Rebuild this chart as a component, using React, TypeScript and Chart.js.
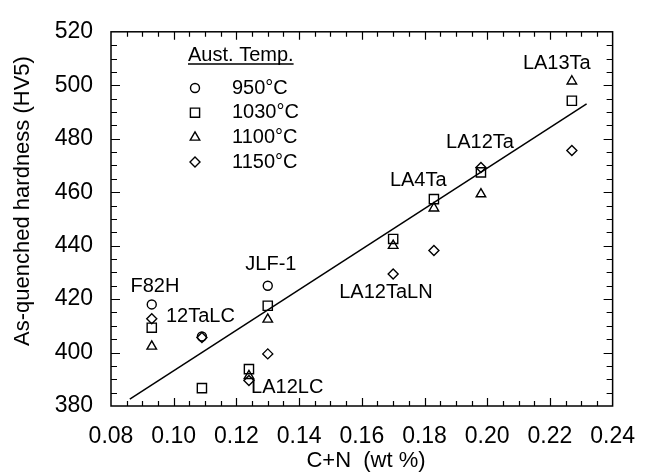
import React, { useEffect, useRef } from 'react';
import { Chart, registerables } from 'chart.js';

Chart.register(...registerables);

const FONT = '"Liberation Sans", Arial, Helvetica, sans-serif';

const alloys = ['F82H', '12TaLC', 'LA12LC', 'JLF-1', 'LA12TaLN', 'LA4Ta', 'LA12Ta', 'LA13Ta'];
const cn = [0.093, 0.109, 0.124, 0.13, 0.17, 0.183, 0.198, 0.227];
const hv950 = [418, 406, null, 425, null, null, null, null];
const hv1030 = [409.3, 386.7, 393.8, 417.5, 442.5, 457.4, 467.4, 494.2];
const hv1100 = [402.3, null, 391.3, 412.4, 440, 454, 459.3, 501.5];
const hv1150 = [412.6, 405.6, 389.5, 399.5, 429.4, 438.2, 469.2, 475.6];

const fitX = [0.086, 0.2317];
const fitY = [382.6, 493];

// label anchor positions (data units)
const labelX = [0.094, 0.1085, 0.1362, 0.131, 0.1677, 0.178, 0.1977, 0.2222];
const labelY = [424.6, 413.6, 387, 433, 422.4, 464.4, 478.6, 508.2];

const seriesNames = ['950°C', '1030°C', '1100°C', '1150°C'];
const seriesStyles = ['circle', 'rect', 'triangle', 'rectRot'];
const seriesRadii = [4.5, 6.5, 5.5, 5];
const seriesValues = [hv950, hv1030, hv1100, hv1150];

const legendTitle = 'Aust. Temp.';
const xTitle = 'C+N  (wt %)';
const yTitle = 'As-quenched hardness (HV5)';

const xMin = 0.08, xMax = 0.24, xStep = 0.02, xMinor = 0.005;
const yMin = 380, yMax = 520, yStep = 20, yMinor = 5;

function drawSymbol(ctx: CanvasRenderingContext2D, style: string, x: number, y: number, r: number) {
  ctx.beginPath();
  if (style === 'circle') {
    ctx.arc(x, y, r, 0, Math.PI * 2);
  } else if (style === 'rect') {
    const s = Math.SQRT1_2 * r;
    ctx.rect(x - s, y - s, 2 * s, 2 * s);
  } else if (style === 'triangle') {
    let a = 0;
    ctx.moveTo(x + Math.sin(a) * r, y - Math.cos(a) * r);
    a += (2 * Math.PI) / 3;
    ctx.lineTo(x + Math.sin(a) * r, y - Math.cos(a) * r);
    a += (2 * Math.PI) / 3;
    ctx.lineTo(x + Math.sin(a) * r, y - Math.cos(a) * r);
    ctx.closePath();
  } else {
    ctx.moveTo(x, y - r);
    ctx.lineTo(x + r, y);
    ctx.lineTo(x, y + r);
    ctx.lineTo(x - r, y);
    ctx.closePath();
  }
  ctx.stroke();
}

const decorPlugin = {
  id: 'decor',
  afterDraw(chart: any) {
    const ctx: CanvasRenderingContext2D = chart.ctx;
    const { left, right, top, bottom } = chart.chartArea;
    const xs = chart.scales.x;
    const ys = chart.scales.y;
    ctx.save();
    ctx.strokeStyle = '#000';
    ctx.fillStyle = '#000';
    // frame
    ctx.lineWidth = 1.5;
    ctx.strokeRect(left, top, right - left, bottom - top);
    // ticks
    ctx.lineWidth = 1.2;
    const nx = Math.round((xMax - xMin) / xMinor);
    for (let i = 1; i < nx; i++) {
      const v = xMin + i * xMinor;
      const px = Math.round(xs.getPixelForValue(v)) + 0.5;
      const major = i % Math.round(xStep / xMinor) === 0;
      const len = major ? 8 : 5;
      ctx.beginPath();
      ctx.moveTo(px, bottom);
      ctx.lineTo(px, bottom - len);
      ctx.moveTo(px, top);
      ctx.lineTo(px, top + len);
      ctx.stroke();
    }
    const ny = Math.round((yMax - yMin) / yMinor);
    for (let i = 1; i < ny; i++) {
      const v = yMin + i * yMinor;
      const py = Math.round(ys.getPixelForValue(v)) + 0.5;
      const major = i % Math.round(yStep / yMinor) === 0;
      const len = major ? 9 : 6;
      ctx.beginPath();
      ctx.moveTo(left, py);
      ctx.lineTo(left + len, py);
      ctx.moveTo(right, py);
      ctx.lineTo(right - len, py);
      ctx.stroke();
    }
    // alloy labels
    ctx.font = `20px ${FONT}`;
    ctx.textAlign = 'center';
    ctx.textBaseline = 'middle';
    alloys.forEach((name, i) => {
      ctx.fillText(name, xs.getPixelForValue(labelX[i]), ys.getPixelForValue(labelY[i]));
    });
    // legend
    const lx = 188, ly = 55;
    ctx.textAlign = 'left';
    ctx.fillText(legendTitle, lx, ly);
    const tw = ctx.measureText(legendTitle).width;
    ctx.lineWidth = 1.3;
    ctx.beginPath();
    ctx.moveTo(lx, ly + 9);
    ctx.lineTo(lx + tw, ly + 9);
    ctx.stroke();
    ctx.lineWidth = 1.4;
    seriesNames.forEach((n, i) => {
      const yy = 88 + i * 24.7;
      drawSymbol(ctx, seriesStyles[i], 195, yy, seriesRadii[i]);
      ctx.fillText(n, 232, yy);
    });
    // axis titles
    ctx.font = `22px ${FONT}`;
    ctx.textAlign = 'center';
    ctx.fillText(xTitle, 366, 461);
    ctx.translate(23, 201);
    ctx.rotate(-Math.PI / 2);
    ctx.fillText(yTitle, 0, 0);
    ctx.restore();
  },
};

export default function App() {
  const ref = useRef<HTMLCanvasElement | null>(null);
  useEffect(() => {
    document.body.style.margin = '0';
    const canvas = ref.current;
    if (!canvas) return;
    const datasets: any[] = seriesValues.map((vals, si) => ({
      type: 'scatter',
      label: seriesNames[si],
      data: cn
        .map((x, i) => ({ x, y: vals[i] }))
        .filter((p) => p.y !== null),
      pointStyle: seriesStyles[si],
      pointRadius: seriesRadii[si],
      pointBorderWidth: 1.4,
      borderColor: '#000',
      backgroundColor: 'rgba(0,0,0,0)',
      showLine: false,
    }));
    datasets.push({
      type: 'line',
      label: 'fit',
      data: fitX.map((x, i) => ({ x, y: fitY[i] })),
      borderColor: '#000',
      borderWidth: 1.5,
      pointRadius: 0,
      fill: false,
    });
    const chart = new Chart(canvas, {
      type: 'scatter',
      data: { datasets },
      options: {
        responsive: false,
        animation: false,
        events: [],
        layout: { padding: { top: 23, right: 23, left: 0, bottom: 0 } },
        plugins: { legend: { display: false }, tooltip: { enabled: false } },
        scales: {
          x: {
            type: 'linear',
            min: xMin,
            max: xMax,
            grid: { display: false, drawTicks: false },
            border: { display: false },
            ticks: {
              stepSize: xStep,
              color: '#000',
              padding: 17,
              font: { family: FONT, size: 23 },
              callback: (v: any) => Number(v).toFixed(2),
            },
            afterFit: (s: any) => {
              s.height = 66;
            },
          },
          y: {
            type: 'linear',
            min: yMin,
            max: yMax,
            grid: { display: false, drawTicks: false },
            border: { display: false },
            ticks: {
              stepSize: yStep,
              color: '#000',
              padding: 18,
              font: { family: FONT, size: 23 },
            },
            afterFit: (s: any) => {
              s.width = 111;
            },
          },
        },
      },
      plugins: [decorPlugin],
    } as any);
    return () => chart.destroy();
  }, []);
  return (
    <div style={{ width: 652, height: 472, background: '#fff' }}>
      <canvas ref={ref} width={652} height={472} />
    </div>
  );
}
